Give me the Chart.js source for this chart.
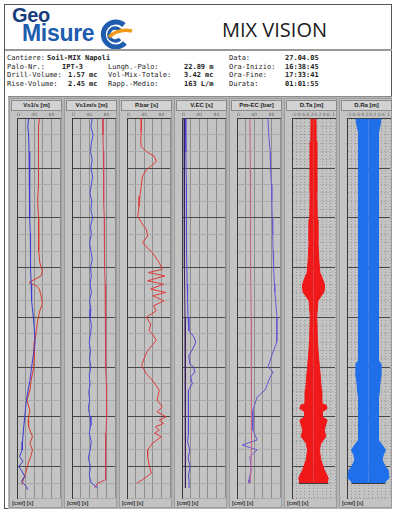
<!DOCTYPE html>
<html lang="it">
<head>
<meta charset="utf-8" />
<title>Mix Vision</title>
<script src="https://cdn.jsdelivr.net/npm/chart.js@4.4.0/dist/chart.umd.min.js"></script>
<style>
    body { margin: 0; background: #fff; width: 394px; height: 514px; overflow: hidden; position: relative; font-family: "Liberation Sans", Arial, sans-serif; }
    #frame { position: absolute; left: 4px; top: 4px; width: 388px; height: 505px; border: 1px solid #555; box-sizing: border-box; }
    .geo { position: absolute; left: 12px; top: 4px; font: bold 20px "Liberation Sans", Arial, sans-serif; color: #163d7c; letter-spacing: -0.3px; }
    .misure { position: absolute; left: 22px; top: 20px; font: bold 23px "Liberation Sans", Arial, sans-serif; color: #1d5cae; letter-spacing: -0.3px; }
    #mark { position: absolute; left: 97px; top: 19px; }
    #title { position: absolute; left: 222px; top: 16px; font: 20px "Open Sans", sans-serif; color: #1a1a1a; }
    #rule { position: absolute; left: 5px; top: 49px; width: 387px; height: 2px; background: #9a9a9a; }
    .info { position: absolute; font: 7px "DejaVu Sans Mono", monospace; color: #222; white-space: pre; }
    .info b { font-weight: bold; }
    #panel { position: absolute; left: 8px; top: 96px; width: 384px; height: 413px; background: #b4b4b4; border-top: 1px solid #8a8a8a; box-sizing: border-box; }
    .col { position: absolute; top: 98px; width: 53px; height: 410px; background: #c3c3c3; border: 1px solid #9c9c9c; box-sizing: border-box; }
    .head { position: absolute; left: 1px; top: 1px; width: 49px; height: 9px; background: #d2d2d2; border: 1px solid #8a8a8a; font: bold 6px "Liberation Sans", Arial, sans-serif; color: #222; text-align: center; line-height: 9px; }
    .foot { position: absolute; left: 2px; top: 401px; font: bold 5.5px "Liberation Sans", Arial, sans-serif; color: #333; }
    .col canvas { position: absolute; left: 0; top: 11px; }
</style>
</head>
<body>
<div id="frame"></div>
<div class="geo">Geo</div>
<div class="misure">Misure</div>
<svg id="mark" width="36" height="30" viewBox="0 0 36 30">
    <path d="M27 6 A12.5 12.5 0 1 0 28 24" fill="none" stroke="#1d5cae" stroke-width="5" />
    <path d="M23 11 A6.5 6.5 0 1 0 23 20" fill="none" stroke="#1d5cae" stroke-width="3.5" />
    <path d="M12 18 Q22 9 35 12" fill="none" stroke="#f29a1d" stroke-width="3.5" />
</svg>
<div id="title">MIX VISION</div>
<div id="rule"></div>
<div id="info"></div>
<div id="panel"></div>

<script>
    // header block: [left, top, text]
    const infoLabels = [
        [7, 54, 'Cantiere:'], [229, 54, 'Data:'],
        [7, 63, 'Palo-Nr.:'], [108, 63, 'Lungh.-Palo:'], [229, 63, 'Ora-Inizio:'],
        [7, 71, 'Drill-Volume:'], [108, 71, 'Vol-Mix-Totale:'], [229, 71, 'Ora-Fine:'],
        [7, 80, 'Rise-Volume:'], [108, 80, 'Rapp.-Medio:'], [229, 80, 'Durata:']
    ];
    const infoValues = [
        [47, 54, 'Soil-MIX Napoli'], [285, 54, '27.04.05'],
        [62, 63, 'IPT-3'], [184, 63, '22.89 m'], [285, 63, '16:38:45'],
        [68, 71, '1.57 mc'], [184, 71, '3.42 mc'], [285, 71, '17:33:41'],
        [68, 80, '2.45 mc'], [184, 80, '163 L/m'], [285, 80, '01:01:55']
    ];

    const headers = ['Vs1/s [m]', 'Vs1m/s [m]', 'P.bar [s]', 'V.EC [s]', 'Pm-EC [bar]', 'D.Ta [m]', 'D.Ra [m]'];
    const footers = ['[cm/] [s]', '[cm/] [s]', '[cm/] [s]', '[cm/] [s]', '[cm/] [s]', '[cm/] [s]', '[cm/] [s]'];
    const depthMax = 22.9;

    // column 1
    const c1BlueDepth = [0, 0.5, 1, 2, 3, 4, 5, 6, 7, 8, 9, 10, 11, 12, 12.6, 13.5, 14.3, 15, 15.8, 16.5, 17.2, 18, 18.8, 19.5, 20, 20.4, 20.7, 21, 21.3, 21.6, 21.9, 22.2, 22.4];
    const c1BlueValue = [27, 25, 27, 28, 29, 29, 30, 30, 31, 31, 32, 33, 34, 38, 40, 42, 38, 34, 30, 25, 21, 18, 15, 13, 12, 6, 14, 4, 12, 18, 10, 22, 24];
    const c1RedDepth = [0, 0.5, 1, 1.5, 2, 3, 4, 5, 6, 7, 8, 8.7, 9.2, 9.5, 9.9, 10.1, 10.3, 10.8, 11.2, 11.6, 12.2, 13, 13.5, 14.5, 15, 15.8, 16.4, 17, 17.6, 18.2, 18.6, 19.2, 19.6, 20, 20.4, 20.8, 21.4, 22.1];
    const c1RedValue = [52, 50, 51, 49, 50, 49, 51, 48, 50, 51, 50, 53, 59, 56, 28, 45, 52, 57, 59, 53, 48, 44, 41, 40, 39, 33, 30, 23, 30, 26, 27, 36, 30, 36, 32, 26, 20, 11];

    // column 2
    const c2BlueDepth = [0, 0.5, 1, 1.5, 2, 2.5, 3, 3.5, 4, 4.5, 5, 5.5, 6, 6.5, 7, 7.5, 8, 8.5, 9, 9.5, 10, 10.5, 11, 11.5, 12, 12.5, 13, 13.5, 14, 14.5, 15, 15.5, 16, 16.5, 17, 17.5, 18, 18.5, 19, 19.5, 20, 20.5, 21, 21.5, 22, 22.3];
    const c2BlueValue = [47, 44, 49, 45, 43, 47, 44, 48, 45, 42, 46, 44, 48, 43, 45, 41, 44, 47, 43, 45, 42, 45, 41, 44, 42, 45, 43, 40, 43, 41, 44, 40, 42, 39, 41, 38, 42, 44, 40, 45, 42, 38, 43, 40, 45, 60];
    const c2RedDepth = [0, 1, 2, 3, 4, 5, 6, 7, 8, 9, 10, 11, 12, 13, 14, 15, 16, 17, 18, 19, 20, 21, 21.5, 21.8, 22, 22.3];
    const c2RedValue = [72, 72, 73, 73, 74, 74, 75, 75, 76, 76, 77, 77, 78, 78, 79, 79, 80, 81, 80, 79, 78, 77, 79, 78, 60, 52];

    // column 3
    const c3RedDepth = [0, 0.8, 1.4, 1.7, 2, 2.3, 2.6, 2.9, 3.1, 3.5, 4.1, 4.7, 5.3, 5.9, 6.3, 6.7, 7.1, 7.5, 8.1, 8.7, 9.1, 9.3, 9.5, 9.8, 10, 10.3, 10.5, 10.7, 11, 11.3, 11.6, 12, 12.4, 12.8, 13.1, 13.4, 14, 14.4, 14.9, 15.4, 15.8, 16.4, 17, 17.4, 17.7, 18, 18.2, 18.4, 18.6, 18.8, 19, 19.2, 19.6, 20, 20.4, 21, 21.4, 21.8, 22];
    const c3RedValue = [34, 33, 32, 33, 45, 64, 68, 55, 45, 36, 33, 30, 28, 25, 34, 45, 48, 36, 59, 75, 82, 50, 88, 48, 85, 55, 90, 60, 86, 62, 68, 45, 55, 52, 62, 68, 48, 41, 34, 45, 59, 75, 70, 82, 70, 91, 75, 85, 66, 75, 64, 80, 59, 48, 48, 52, 57, 36, 23];

    // column 4
    const c4DarkDepth = [0, 3, 6, 9, 12, 15, 18, 21, 22.3];
    const c4DarkValue = [5, 5, 6, 6, 7, 7, 8, 8, 9];
    const c4BlueDepth = [0, 2, 4, 6, 8, 10, 11, 12, 12.8, 13.2, 13.5, 13.9, 14.3, 14.8, 15, 15.3, 15.6, 16, 16.4, 17, 18, 19, 19.5, 20, 20.5, 21, 21.5, 22, 22.3];
    const c4BlueValue = [8, 9, 10, 10, 11, 12, 13, 14, 16, 28, 32, 25, 16, 18, 27, 30, 20, 24, 15, 14, 15, 16, 13, 18, 14, 19, 15, 17, 16];

    // column 5
    const c5PinkDepth = [0, 3, 6, 9, 12, 15, 18, 20, 22];
    const c5PinkValue = [30, 31, 31, 32, 33, 33, 34, 34, 31];
    const c5BlueDepth = [0, 1, 2, 3, 4, 5, 6, 7, 8, 9, 10, 10.5, 11, 12, 13, 13.5, 14.3, 15, 15.3, 15.6, 16.4, 16.8, 17.6, 18.8, 19.4, 19.7, 20, 20.4, 21.2, 21.8, 22];
    const c5BlueValue = [72, 74, 77, 78, 80, 81, 82, 83, 84, 85, 87, 88, 90, 93, 93, 92, 81, 72, 84, 77, 65, 47, 37, 37, 47, 12, 47, 30, 33, 28, 28];

    // column 6: diameter of the red column [m]
    const c6Depth = [0, 1.4, 3, 4.4, 6.1, 7.4, 8.6, 9.3, 9.5, 9.8, 10, 10.3, 10.5, 10.7, 11, 11.9, 13.4, 14.3, 15, 15.6, 16.4, 16.8, 17.2, 17.3, 17.5, 17.7, 18, 18.2, 18.4, 18.8, 19.2, 19.6, 20, 20.6, 21.2, 21.7, 22];
    const c6Diameter = [0.23, 0.25, 0.29, 0.32, 0.35, 0.41, 0.5, 0.59, 0.73, 0.91, 1, 1, 0.96, 0.73, 0.41, 0.3, 0.36, 0.46, 0.55, 0.64, 0.73, 0.76, 0.77, 1.18, 1.27, 0.82, 0.82, 1.27, 1.18, 1, 1.14, 0.68, 0.55, 0.68, 1, 1.37, 1.27];

    // column 7: diameter of the blue column [m]
    const c7Depth = [0, 0.5, 0.9, 2, 5, 8, 10.4, 13.4, 14.6, 14.8, 15.6, 16.1, 16.5, 17, 19.4, 19.7, 20, 20.3, 20.6, 21, 21.2, 21.7, 22];
    const c7Diameter = [1.18, 1.05, 0.91, 0.94, 0.93, 0.94, 0.91, 0.91, 0.96, 1.14, 1.14, 1.05, 1, 0.91, 0.91, 1.27, 1.59, 1.37, 1.27, 1.55, 1.82, 1.91, 1.46];

    function pts(depths, values, sign) {
        return depths.map((d, k) => ({ x: values[k] * sign, y: d }));
    }

    function isMajor(v) {
        return Math.abs(v / 3 - Math.round(v / 3)) < 1e-6;
    }

    function baseOptions(xMin, xMax, xStep, fine) {
        return {
            indexAxis: 'y',
            responsive: false,
            animation: false,
            layout: { padding: { left: 7, right: 0, top: 1, bottom: 2 } },
            plugins: { legend: { display: false }, tooltip: { enabled: false } },
            scales: {
                x: {
                    type: 'linear', position: 'top', min: xMin, max: xMax,
                    ticks: {
                        stepSize: xStep, autoSkip: false, align: 'inner', maxRotation: 0, padding: 1,
                        color: '#6a6a6a', font: { size: 4.5, family: 'DejaVu Sans' },
                        callback: function (v, idx) { return idx % 2 === 0 ? String(Math.round(v * 10) / 10) : ''; }
                    },
                    grid: { drawTicks: false, color: fine ? '#999999' : 'rgba(100,100,100,0.55)' },
                    border: { color: '#3a3a3a', dash: ctx => (fine && ctx.tick) ? [1, 2] : [] }
                },
                y: {
                    type: 'linear', reverse: true, min: 0, max: depthMax,
                    ticks: { display: false, stepSize: fine ? 0.5 : 1 },
                    grid: {
                        drawTicks: false,
                        color: ctx => isMajor(ctx.tick.value) ? '#484848' : (fine ? '#999999' : '#ababab')
                    },
                    border: { color: '#3a3a3a', dash: ctx => (ctx.tick && fine && !isMajor(ctx.tick.value)) ? [1, 2] : [] }
                }
            }
        };
    }

    function lineColumn(canvas, xMin, xMax, xStep, series) {
        return new Chart(canvas, {
            type: 'line',
            data: {
                datasets: series.map(s => ({
                    data: pts(s.depth, s.value, 1),
                    borderColor: s.color,
                    borderWidth: 1,
                    pointRadius: 0,
                    fill: false
                }))
            },
            options: baseOptions(xMin, xMax, xStep, false)
        });
    }

    function diameterColumn(canvas, depths, diameters, color) {
        let radius = diameters.map(d => d / 2);
        let last = radius[radius.length - 1];
        let bottom = depths[depths.length - 1];
        return new Chart(canvas, {
            type: 'line',
            data: {
                datasets: [
                    { data: pts(depths, radius, 1), borderColor: color, backgroundColor: color, borderWidth: 1, pointRadius: 0, fill: 'origin' },
                    { data: pts(depths, radius, -1), borderColor: color, backgroundColor: color, borderWidth: 1, pointRadius: 0, fill: 'origin' },
                    { data: [{ x: -last - 0.05, y: bottom }, { x: last + 0.05, y: bottom }], borderColor: '#111', borderWidth: 1.5, pointRadius: 0, fill: false }
                ]
            },
            options: baseOptions(-1, 1, 0.2, true)
        });
    }

    let info = document.getElementById('info');
    infoLabels.forEach(([x, y, t]) => {
        info.insertAdjacentHTML('beforeend', `<div class="info" style="left:${x}px;top:${y}px">${t}</div>`);
    });
    infoValues.forEach(([x, y, t]) => {
        info.insertAdjacentHTML('beforeend', `<div class="info" style="left:${x}px;top:${y}px"><b>${t}</b></div>`);
    });

    let canvases = [];
    headers.forEach((h, i) => {
        let col = document.createElement('div');
        col.className = 'col';
        col.style.left = (9 + i * 55) + 'px';
        col.innerHTML = `<div class="head">${h}</div><canvas width="51" height="390"></canvas><div class="foot">${footers[i]}</div>`;
        document.body.appendChild(col);
        canvases.push(col.querySelector('canvas'));
    });

    lineColumn(canvases[0], 0, 100, 20, [
        { depth: c1BlueDepth, value: c1BlueValue, color: '#3b3bd0' },
        { depth: c1RedDepth, value: c1RedValue, color: '#d63a2a' }
    ]);
    lineColumn(canvases[1], 0, 100, 20, [
        { depth: c2BlueDepth, value: c2BlueValue, color: '#4a4ad8' },
        { depth: c2RedDepth, value: c2RedValue, color: '#d04050' }
    ]);
    lineColumn(canvases[2], 0, 100, 20, [
        { depth: c3RedDepth, value: c3RedValue, color: '#e03a3a' }
    ]);
    lineColumn(canvases[3], 0, 100, 20, [
        { depth: c4DarkDepth, value: c4DarkValue, color: '#3a1f5c' },
        { depth: c4BlueDepth, value: c4BlueValue, color: '#5646d6' }
    ]);
    lineColumn(canvases[4], 0, 100, 20, [
        { depth: c5PinkDepth, value: c5PinkValue, color: '#c06585' },
        { depth: c5BlueDepth, value: c5BlueValue, color: '#6a58cf' }
    ]);
    diameterColumn(canvases[5], c6Depth, c6Diameter, '#f01818');
    diameterColumn(canvases[6], c7Depth, c7Diameter, '#1f6fea');
</script>
</body>
</html>
